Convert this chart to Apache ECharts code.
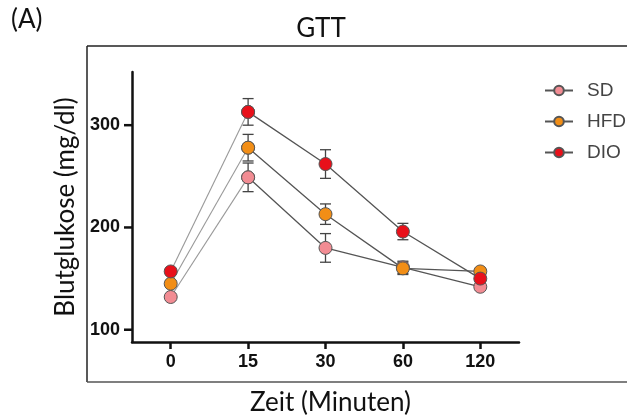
<!DOCTYPE html>
<html>
<head>
<meta charset="utf-8">
<script src="https://cdn.jsdelivr.net/npm/echarts@6/dist/echarts.min.js"></script>
<style>
  html, body { margin: 0; padding: 0; background: #fff; }
  #chart { width: 627px; height: 416px; }
</style>
</head>
<body>
<div id="chart"></div>
<script>
// Zeitpunkte (Minuten)
const times = ['0', '15', '30', '60', '120']
const yTicks = [100, 200, 300]

// Mittelwerte Blutglukose (mg/dl)
const sdMean = [132, 249, 180, 161, 142]
const hfdMean = [145, 278, 213, 160, 157]
const dioMean = [157, 313, 262, 196, 150]

// Fehlerbalken (+/-)
const sdErr = [3, 14, 14, 6, 3]
const hfdErr = [3, 13, 10, 6, 3]
const dioErr = [3, 13, 14, 8, 3]

const groups = [
  { name: 'SD', mean: sdMean, err: sdErr, color: '#F28C93' },
  { name: 'HFD', mean: hfdMean, err: hfdErr, color: '#F28E16' },
  { name: 'DIO', mean: dioMean, err: dioErr, color: '#E8101A' }
]

const chart = echarts.init(document.getElementById('chart'))
const font = 'Liberation Sans, Arial, sans-serif'
const labelFont = 'Lato, sans-serif'

const series = []

// y-Striche: x vom Gitterrand, y aus der y-Skala
series.push({
  name: 'yticks',
  type: 'custom',
  silent: true,
  clip: false,
  z: 30,
  data: yTicks.map(v => [0, v]),
  renderItem: (params, api) => {
    const y = api.coord([0, api.value(1)])[1]
    const x = params.coordSys.x
    return {
      type: 'rect',
      shape: { x: x - 8, y: y - 1.25, width: 9, height: 2.5 },
      style: { fill: '#111' }
    }
  }
})

groups.forEach(g => {
  // Fehlerbalken
  series.push({
    name: g.name + '-err',
    type: 'custom',
    z: 3,
    silent: true,
    data: g.mean.map((m, i) => [i, m - g.err[i], m + g.err[i]]),
    renderItem: (params, api) => {
      const lo = api.coord([api.value(0), api.value(1)])
      const hi = api.coord([api.value(0), api.value(2)])
      const w = 5.5
      const style = { stroke: '#444', lineWidth: 1.3 }
      return {
        type: 'group',
        children: [
          { type: 'line', shape: { x1: lo[0], y1: lo[1], x2: hi[0], y2: hi[1] }, style },
          { type: 'line', shape: { x1: lo[0] - w, y1: lo[1], x2: lo[0] + w, y2: lo[1] }, style },
          { type: 'line', shape: { x1: hi[0] - w, y1: hi[1], x2: hi[0] + w, y2: hi[1] }, style }
        ]
      }
    }
  })
  // hellere erste Strecke 0 -> 15
  series.push({
    name: g.name + '-start',
    type: 'line',
    z: 4,
    data: g.mean.map((m, i) => (i < 2 ? m : '-')),
    symbol: 'circle',
    symbolSize: 13,
    itemStyle: { color: g.color, borderColor: '#555', borderWidth: 1 },
    lineStyle: { color: '#999', width: 1.1 }
  })
  series.push({
    name: g.name,
    type: 'line',
    z: 5,
    data: g.mean.map((m, i) => (i < 1 ? '-' : m)),
    symbol: 'circle',
    symbolSize: 13,
    itemStyle: { color: g.color, borderColor: '#555', borderWidth: 1 },
    lineStyle: { color: '#555', width: 1.3 }
  })
})

chart.setOption({
  animation: false,
  title: {
    text: 'GTT',
    left: 316,
    top: 11,
    textAlign: 'center',
    textStyle: { fontFamily: labelFont, fontSize: 26, fontWeight: 'normal', color: '#111' }
  },
  graphic: [
    { type: 'text', left: 11, top: 7, style: { text: '(A)', fontFamily: labelFont, fontSize: 26, fill: '#111' } },
    { type: 'line', shape: { x1: 87, y1: 46, x2: 627, y2: 46 }, style: { stroke: '#222', lineWidth: 1.5 } },
    { type: 'line', shape: { x1: 87, y1: 46, x2: 87, y2: 382 }, style: { stroke: '#222', lineWidth: 1.5 } },
    { type: 'line', shape: { x1: 87, y1: 382, x2: 627, y2: 382 }, style: { stroke: '#555', lineWidth: 1.5 } }
  ],
  legend: {
    orient: 'vertical',
    left: 539,
    top: 76,
    itemWidth: 28,
    itemHeight: 12,
    itemGap: 12,
    data: groups.map(g => g.name),
    textStyle: { fontFamily: font, fontSize: 19, color: '#444', padding: [0, 0, 0, 9] }
  },
  grid: { left: 132, top: 72, right: 108, bottom: 74, outerBoundsMode: 'none', containLabel: false },
  xAxis: {
    type: 'category',
    data: times,
    boundaryGap: true,
    name: 'Zeit (Minuten)',
    nameLocation: 'middle',
    nameGap: 48,
    nameTextStyle: { fontFamily: labelFont, fontSize: 26, color: '#111', padding: [0, 0, 0, 10] },
    axisLine: { lineStyle: { color: '#111', width: 2.5 } },
    axisTick: { show: true, inside: false, alignWithLabel: true, length: 7, lineStyle: { color: '#111', width: 2.5 } },
    axisLabel: { fontFamily: font, fontSize: 18, fontWeight: 'bold', color: '#111', margin: 11 }
  },
  yAxis: {
    type: 'value',
    min: 88,
    max: 352,
    name: 'Blutglukose (mg/dl)',
    nameLocation: 'middle',
    nameGap: 52,
    nameTextStyle: { fontFamily: labelFont, fontSize: 26, color: '#111' },
    axisLine: { show: true, lineStyle: { color: '#111', width: 2.5 } },
    axisTick: { show: false },
    axisLabel: { fontFamily: font, fontSize: 18, fontWeight: 'bold', color: '#111', margin: 12, customValues: yTicks },
    splitLine: { show: false }
  },
  series
})
</script>
</body>
</html>
